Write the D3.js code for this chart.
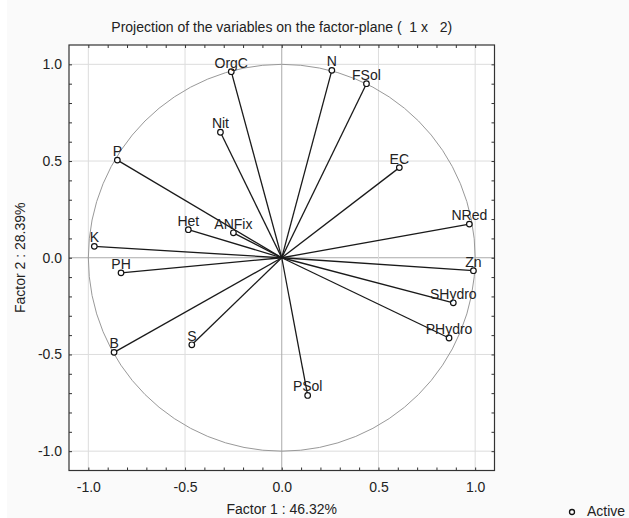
<!DOCTYPE html>
<html><head><meta charset="utf-8">
<script src="https://cdn.jsdelivr.net/npm/d3@7"></script>
<style>
html,body{margin:0;padding:0;background:#fafafa;}
svg{display:block;}
text{font-family:"Liberation Sans",Arial,sans-serif;fill:#222;}
</style></head>
<body>
<svg id="chart" width="629" height="518"></svg>
<script>
const variables = ["OrgC","N","FSol","Nit","P","EC","Het","ANFix","NRed","K","Zn","PH","SHydro","PHydro","B","S","PSol"];
const factor1 = [-0.261,0.259,0.438,-0.317,-0.850,0.608,-0.483,-0.250,0.970,-0.969,0.991,-0.831,0.887,0.865,-0.867,-0.465,0.134];
const factor2 = [0.962,0.969,0.900,0.649,0.505,0.466,0.145,0.129,0.174,0.059,-0.067,-0.078,-0.233,-0.415,-0.489,-0.450,-0.712];
const tickValues = [-1.0,-0.5,0.0,0.5,1.0];
const tickLabels = ["-1.0","-0.5","0.0","0.5","1.0"];
const titleText = "Projection of the variables on the factor-plane (  1 x   2)";
const xTitle = "Factor 1 : 46.32%";
const yTitle = "Factor 2 : 28.39%";
const legendLabel = "Active";

const FS = 14;
const svg = d3.select("#chart");
const L = 69, T = 45, S = 425.5;
const x = d3.scaleLinear().domain([-1.1,1.1]).range([L, L+S]);
const y = d3.scaleLinear().domain([-1.1,1.1]).range([T+S, T]);

svg.append("rect").attr("x",0).attr("y",0).attr("width",7).attr("height",518).attr("fill","#fff");
svg.append("rect").attr("x",L).attr("y",T).attr("width",S).attr("height",S).attr("fill","#fff");

// grid
const g = svg.append("g");
tickValues.forEach(v=>{
  const c = v===0 ? "#aaa" : "#ddd";
  g.append("line").attr("x1",x(v)).attr("x2",x(v)).attr("y1",T).attr("y2",T+S).attr("stroke",c).attr("stroke-width",1);
  g.append("line").attr("y1",y(v)).attr("y2",y(v)).attr("x1",L).attr("x2",L+S).attr("stroke",c).attr("stroke-width",1);
});

// unit circle
svg.append("circle").attr("cx",x(0)).attr("cy",y(0)).attr("r",x(1)-x(0))
  .attr("fill","none").attr("stroke","#999").attr("stroke-width",1);

// minor ticks (inward) on all four sides
const minor = d3.range(-10,11).map(i=>i/10);
svg.append("g").attr("transform",`translate(0,${T+S})`).call(d3.axisBottom(x).tickValues(minor).tickSize(-3).tickFormat(""));
svg.append("g").attr("transform",`translate(0,${T})`).call(d3.axisTop(x).tickValues(minor).tickSize(-3).tickFormat(""));
svg.append("g").attr("transform",`translate(${L},0)`).call(d3.axisLeft(y).tickValues(minor).tickSize(-3).tickFormat(""));
svg.append("g").attr("transform",`translate(${L+S},0)`).call(d3.axisRight(y).tickValues(minor).tickSize(-3).tickFormat(""));
svg.selectAll(".domain").remove();
svg.selectAll(".tick line").attr("stroke","#333");

// tick labels
const xl = svg.append("g").attr("transform",`translate(0,${T+S})`)
  .call(d3.axisBottom(x).tickValues(tickValues).tickSize(0).tickPadding(12).tickFormat((d,i)=>tickLabels[i]));
xl.select(".domain").remove();
xl.selectAll("text").attr("font-size",FS).attr("font-family","Liberation Sans, Arial, sans-serif").attr("fill","#222");
const yl = svg.append("g").attr("transform",`translate(${L},0)`)
  .call(d3.axisLeft(y).tickValues(tickValues).tickSize(0).tickPadding(7).tickFormat((d,i)=>tickLabels[i]));
yl.select(".domain").remove();
yl.selectAll("text").attr("font-size",FS).attr("font-family","Liberation Sans, Arial, sans-serif").attr("fill","#222");

// frame
svg.append("rect").attr("x",L).attr("y",T).attr("width",S).attr("height",S)
  .attr("fill","none").attr("stroke","#333").attr("stroke-width",1.2);

// vectors
const data = variables.map((v,i)=>({name:v,x:factor1[i],y:factor2[i]}));
svg.append("g").selectAll("line").data(data).join("line")
  .attr("x1",x(0)).attr("y1",y(0)).attr("x2",d=>x(d.x)).attr("y2",d=>y(d.y))
  .attr("stroke","#1a1a1a").attr("stroke-width",1.3);
svg.append("g").selectAll("circle").data(data).join("circle")
  .attr("cx",d=>x(d.x)).attr("cy",d=>y(d.y)).attr("r",2.8)
  .attr("fill","#fff").attr("stroke","#111").attr("stroke-width",1.2);
svg.append("g").selectAll("text").data(data).join("text")
  .attr("x",d=>x(d.x)).attr("y",d=>y(d.y)-4)
  .attr("text-anchor","middle").attr("font-size",FS).attr("fill","#333").text(d=>d.name);

// titles
svg.append("text").attr("x",x(0)).attr("y",32).attr("text-anchor","middle").attr("font-size",FS)
  .style("white-space","pre").text(titleText);
svg.append("text").attr("x",x(0)).attr("y",514).attr("text-anchor","middle").attr("font-size",FS).text(xTitle);
svg.append("text").attr("transform",`translate(25,${y(0)}) rotate(-90)`).attr("text-anchor","middle").attr("font-size",FS).text(yTitle);

// legend
svg.append("circle").attr("cx",572).attr("cy",512).attr("r",2.5).attr("fill","#fff").attr("stroke","#111").attr("stroke-width",1.3);
svg.append("text").attr("x",587).attr("y",516).attr("font-size",FS).text(legendLabel);
</script>
</body></html>
